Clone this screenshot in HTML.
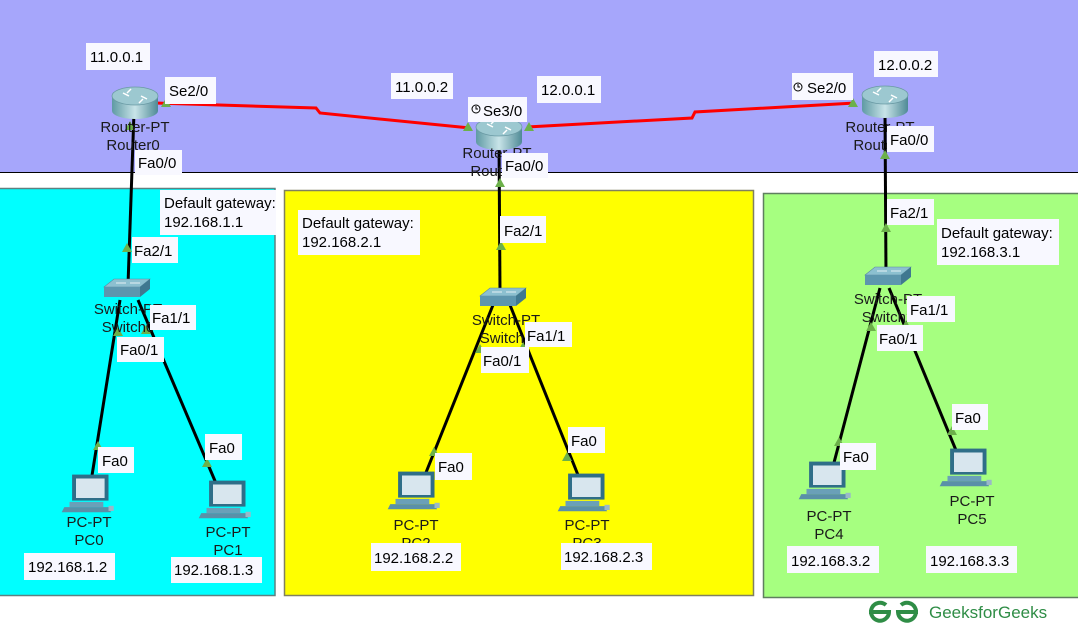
<!DOCTYPE html>
<html><head><meta charset="utf-8"><style>
html,body{margin:0;padding:0;background:#fff;}
svg{display:block;font-family:"Liberation Sans",Arial,sans-serif;}
.l{font-size:15px;fill:#000;}
.n{font-size:15px;fill:#1a1a1a;}
</style></head><body>
<svg width="1078" height="626" viewBox="0 0 1078 626" xmlns="http://www.w3.org/2000/svg">
<defs>
<linearGradient id="rg" x1="0" x2="1" y1="0" y2="0">
<stop offset="0" stop-color="#5f9aa4"/><stop offset="0.5" stop-color="#c8e4e8"/><stop offset="1" stop-color="#4f8a96"/></linearGradient>
<g id="router">
<path d="M-23,-5 L-23,10 A23,8 0 0 0 23,10 L23,-5 Z" fill="url(#rg)"/>
<ellipse cx="0" cy="-5" rx="23" ry="9" fill="#9cc8d0" stroke="#6a9aa4" stroke-width="0.8"/>
<path d="M-12,-8 l6,3 M12,-2 l-6,-3 M-4,-12 l-4,4 M4,2 l4,-4" stroke="#fff" stroke-width="1.5"/>
</g>
<g id="switch">
<path d="M-22,-2 L-12,-10 L24,-10 L14,-2 Z" fill="#8cc0d0" stroke="#5a8aa0" stroke-width="0.6"/>
<path d="M-22,-2 L14,-2 L14,8 L-22,8 Z" fill="#5d96ae"/>
<path d="M14,-2 L24,-10 L24,0 L14,8 Z" fill="#3f7890"/>
<path d="M-10,-6 h10 M4,-6 h10" stroke="#fff" stroke-width="0.8"/>
</g>
<g id="pc">
<g transform="scale(1.3)">
<rect x="-13" y="-18" width="28" height="20" fill="#2f6e88"/>
<rect x="-10" y="-15" width="22" height="15" fill="#d8e6ee"/>
<rect x="-15" y="3" width="26" height="4" fill="#6aa0b8"/>
<path d="M-19,7 L15,7 L17,11 L-21,11 Z" fill="#5a90a8"/>
<rect x="15" y="6" width="4" height="4" fill="#9ab8c8"/>
</g>
</g>
<path id="tri" d="M-5,4 L5,4 L0,-5 Z" fill="#6cb04a"/>
</defs>

<rect x="0" y="0" width="1078" height="172" fill="#a6a6fb"/>
<line x1="0" y1="172.5" x2="1078" y2="172.5" stroke="#000" stroke-width="1"/>
<rect x="-1" y="188.5" width="276" height="407" fill="#00ffff" stroke="#5f8080" stroke-width="1.5"/>
<rect x="284.5" y="190.5" width="469" height="405" fill="#ffff00" stroke="#808060" stroke-width="1.5"/>
<rect x="763.5" y="193.5" width="320" height="404" fill="#a6ff80" stroke="#5f7f5f" stroke-width="1.5"/>

<polyline points="155,103 316,108 320,113 470,128" fill="none" stroke="#f00" stroke-width="3"/>
<polyline points="527,127 692,118 695,112 855,103" fill="none" stroke="#f00" stroke-width="3"/>

<g stroke="#000" stroke-width="3" fill="none">
<line x1="134" y1="112" x2="128" y2="285"/>
<line x1="120" y1="300" x2="90" y2="488"/>
<line x1="138" y1="300" x2="218" y2="488"/>
<line x1="499" y1="140" x2="500" y2="292"/>
<line x1="493" y1="305" x2="423" y2="480"/>
<line x1="510" y1="305" x2="580" y2="480"/>
<line x1="885" y1="112" x2="886" y2="275"/>
<line x1="880" y1="288" x2="831" y2="474"/>
<line x1="889" y1="288" x2="960" y2="460"/>
</g>

<use href="#router" x="135" y="101"/>
<use href="#router" x="499" y="132"/>
<use href="#router" x="885" y="100"/>
<use href="#switch" x="126" y="289"/>
<use href="#switch" x="502" y="298"/>
<use href="#switch" x="887" y="277"/>
<use href="#pc" x="89" y="498"/>
<use href="#pc" x="226" y="504"/>
<use href="#pc" x="415" y="495"/>
<use href="#pc" x="585" y="497"/>
<use href="#pc" x="826" y="485"/>
<use href="#pc" x="967" y="472"/>

<use href="#tri" x="166" y="103"/>
<use href="#tri" x="130" y="126"/>
<use href="#tri" x="127" y="248"/>
<use href="#tri" x="118" y="332"/>
<use href="#tri" x="146" y="330"/>
<use href="#tri" x="98" y="446"/>
<use href="#tri" x="207" y="463"/>
<use href="#tri" x="468" y="127"/>
<use href="#tri" x="529" y="127"/>
<use href="#tri" x="500" y="183"/>
<use href="#tri" x="501" y="246"/>
<use href="#tri" x="480" y="349"/>
<use href="#tri" x="523" y="347"/>
<use href="#tri" x="434" y="452"/>
<use href="#tri" x="567" y="457"/>
<use href="#tri" x="853" y="103"/>
<use href="#tri" x="885" y="155"/>
<use href="#tri" x="886" y="228"/>
<use href="#tri" x="871" y="327"/>
<use href="#tri" x="906" y="325"/>
<use href="#tri" x="839" y="442"/>
<use href="#tri" x="952" y="431"/>

<g class="n" text-anchor="middle">
<text x="135" y="132">Router-PT</text><text x="133" y="150">Router0</text>
<text x="497" y="158">Router-PT</text><text x="497" y="176">Router1</text>
<text x="880" y="132">Router-PT</text><text x="880" y="150">Router2</text>
<text x="128" y="314">Switch-PT</text><text x="128" y="332">Switch0</text>
<text x="506" y="325">Switch-PT</text><text x="506" y="343">Switch1</text>
<text x="888" y="304">Switch-PT</text><text x="888" y="322">Switch2</text>
<text x="89" y="527">PC-PT</text><text x="89" y="545">PC0</text>
<text x="228" y="537">PC-PT</text><text x="228" y="555">PC1</text>
<text x="416" y="530">PC-PT</text><text x="416" y="548">PC2</text>
<text x="587" y="530">PC-PT</text><text x="587" y="548">PC3</text>
<text x="829" y="521">PC-PT</text><text x="829" y="539">PC4</text>
<text x="972" y="506">PC-PT</text><text x="972" y="524">PC5</text>
</g>

<g fill="#f8f8ff">
<rect x="86" y="43" width="64" height="27"/>
<rect x="165" y="77" width="51" height="27"/>
<rect x="135" y="150" width="47" height="25"/>
<rect x="160" y="190" width="116" height="45"/>
<rect x="132" y="237" width="46" height="26"/>
<rect x="150" y="305" width="46" height="25"/>
<rect x="117" y="337" width="47" height="25"/>
<rect x="98" y="447" width="36" height="26"/>
<rect x="205" y="434" width="37" height="26"/>
<rect x="24" y="553" width="91" height="27"/>
<rect x="171" y="557" width="91" height="26"/>
<rect x="391" y="73" width="62" height="26"/>
<rect x="537" y="76" width="64" height="27"/>
<rect x="468" y="97" width="59" height="25"/>
<rect x="502" y="153" width="46" height="25"/>
<rect x="298" y="210" width="122" height="45"/>
<rect x="500" y="216" width="46" height="27"/>
<rect x="525" y="322" width="47" height="25"/>
<rect x="481" y="347" width="48" height="26"/>
<rect x="435" y="453" width="37" height="27"/>
<rect x="568" y="427" width="37" height="26"/>
<rect x="371" y="543" width="90" height="28"/>
<rect x="561" y="543" width="91" height="27"/>
<rect x="792" y="73" width="61" height="27"/>
<rect x="874" y="51" width="64" height="26"/>
<rect x="887" y="126" width="47" height="26"/>
<rect x="887" y="199" width="47" height="26"/>
<rect x="937" y="219" width="122" height="46"/>
<rect x="907" y="296" width="48" height="26"/>
<rect x="877" y="325" width="46" height="26"/>
<rect x="840" y="443" width="36" height="27"/>
<rect x="952" y="404" width="36" height="26"/>
<rect x="787" y="546" width="92" height="27"/>
<rect x="926" y="546" width="91" height="27"/>
</g>
<g class="l">
<text x="90" y="62">11.0.0.1</text>
<text x="169" y="96">Se2/0</text>
<text x="138" y="168">Fa0/0</text>
<text x="164" y="208">Default gateway:</text><text x="164" y="227">192.168.1.1</text>
<text x="134" y="256">Fa2/1</text>
<text x="152" y="323">Fa1/1</text>
<text x="120" y="355">Fa0/1</text>
<text x="102" y="466">Fa0</text>
<text x="209" y="453">Fa0</text>
<text x="28" y="572">192.168.1.2</text>
<text x="174" y="575">192.168.1.3</text>
<text x="395" y="92">11.0.0.2</text>
<text x="541" y="95">12.0.0.1</text>
<text x="483" y="116">Se3/0</text>
<text x="505" y="171">Fa0/0</text>
<text x="302" y="228">Default gateway:</text><text x="302" y="247">192.168.2.1</text>
<text x="504" y="236">Fa2/1</text>
<text x="527" y="341">Fa1/1</text>
<text x="483" y="366">Fa0/1</text>
<text x="438" y="472">Fa0</text>
<text x="571" y="446">Fa0</text>
<text x="374" y="563">192.168.2.2</text>
<text x="564" y="562">192.168.2.3</text>
<text x="807" y="93">Se2/0</text>
<text x="878" y="70">12.0.0.2</text>
<text x="890" y="145">Fa0/0</text>
<text x="890" y="218">Fa2/1</text>
<text x="941" y="238">Default gateway:</text><text x="941" y="257">192.168.3.1</text>
<text x="910" y="315">Fa1/1</text>
<text x="879" y="344">Fa0/1</text>
<text x="843" y="462">Fa0</text>
<text x="955" y="423">Fa0</text>
<text x="791" y="566">192.168.3.2</text>
<text x="930" y="566">192.168.3.3</text>
</g>
<g fill="none" stroke="#000" stroke-width="1">
<circle cx="476" cy="109" r="4"/><path d="M476,106 v3 h2"/>
<circle cx="798" cy="87" r="4"/><path d="M798,84 v3 h2"/>
</g>

<g fill="none" stroke="#2f8d46" stroke-width="4">
<path d="M869,612 h20 a9,9 0 1 1 -3,-7"/>
<path d="M918,612 h-20 a9,9 0 1 0 3,-7"/>
</g>
<text x="929" y="618" font-size="17" fill="#2f8d46" style="font-family:'Liberation Sans',sans-serif">GeeksforGeeks</text>
</svg>
</body></html>
